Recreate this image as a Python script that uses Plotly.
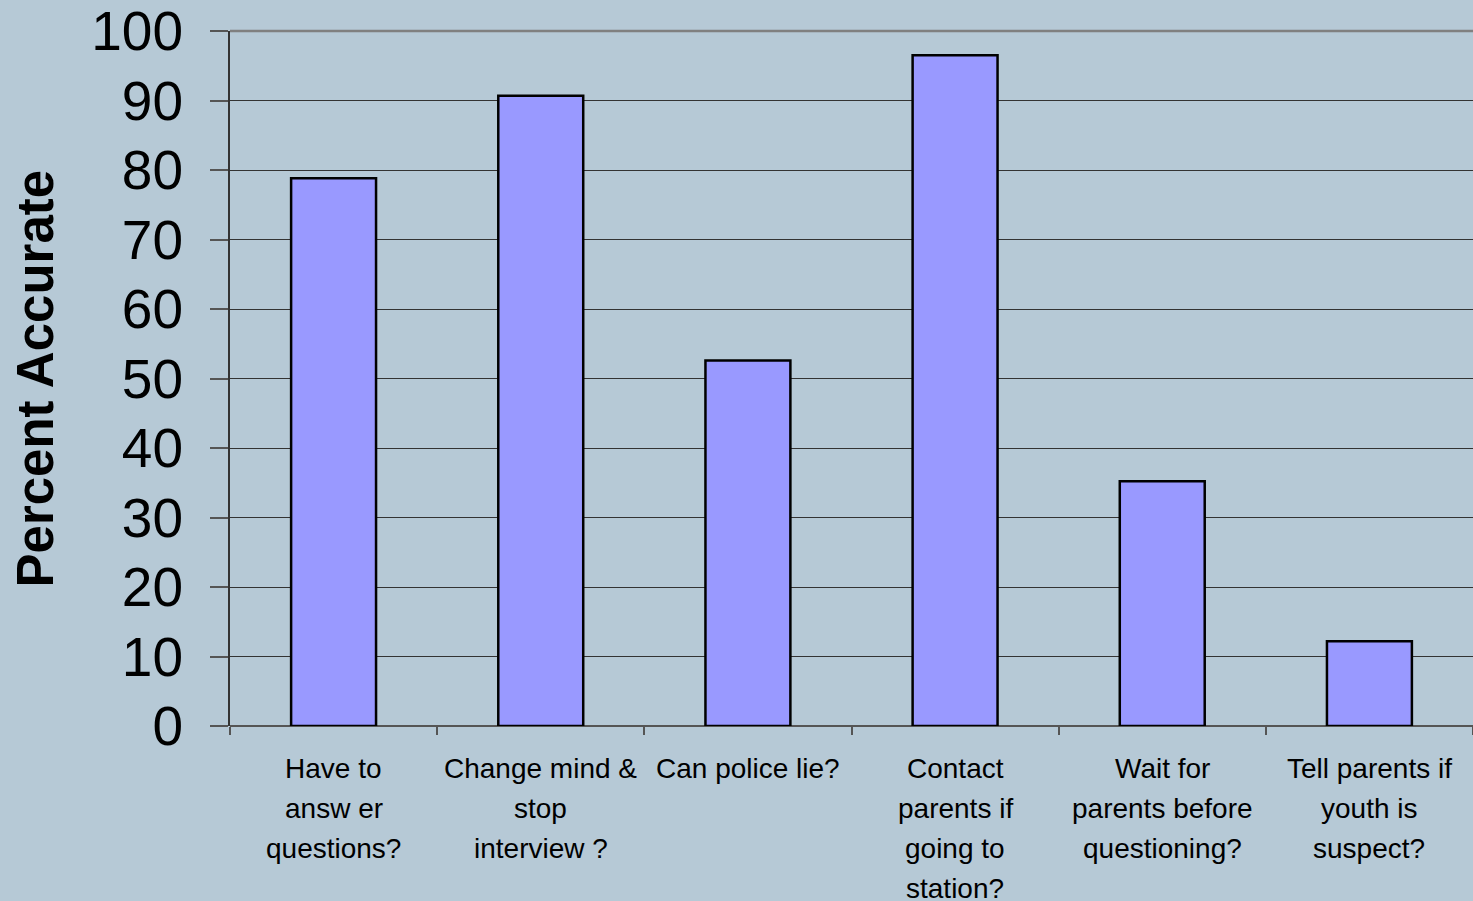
import plotly.graph_objects as go

categories = [
    "Have to answer questions?",
    "Change mind & stop interview?",
    "Can police lie?",
    "Contact parents if going to station?",
    "Wait for parents before questioning?",
    "Tell parents if youth is suspect?",
]
label_lines = [
    ["Have to", "answ er", "questions?"],
    ["Change mind &", "stop", "interview ?"],
    ["Can police lie?"],
    ["Contact", "parents if", "going to", "station?"],
    ["Wait for", "parents before", "questioning?"],
    ["Tell parents if", "youth is", "suspect?"],
]
values = [78.8, 90.7, 52.6, 96.5, 35.2, 12.2]
y_ticks = [0, 10, 20, 30, 40, 50, 60, 70, 80, 90, 100]
y_title = "Percent Accurate"

BG = "#B6C9D6"
FONT = "Liberation Sans, Arial, sans-serif"

fig = go.Figure(
    go.Bar(
        x=categories,
        y=values,
        width=0.41,
        marker=dict(color="#9999FF", line=dict(color="#000000", width=2.5)),
        hoverinfo="skip",
    )
)

fig.update_layout(
    width=1473,
    height=901,
    paper_bgcolor=BG,
    plot_bgcolor=BG,
    margin=dict(l=230, r=0, t=31, b=175),
    showlegend=False,
    font=dict(family=FONT, color="#000000"),
)

fig.update_xaxes(
    type="category",
    categoryorder="array",
    categoryarray=categories,
    tickson="boundaries",
    ticks="outside",
    ticklen=8,
    tickcolor="#555555",
    tickwidth=1.5,
    showline=False,
    showgrid=False,
    showticklabels=False,
)

fig.update_yaxes(
    range=[0, 100],
    tickvals=y_ticks,
    ticks="outside",
    ticklen=18,
    tickcolor="#555555",
    tickwidth=1.5,
    showgrid=True,
    gridcolor="#333333",
    gridwidth=1.2,
    showline=True,
    linecolor="#333333",
    linewidth=2,
    zeroline=True,
    zerolinecolor="#555555",
    zerolinewidth=1.5,
    tickfont=dict(size=55, family=FONT, color="#000000"),
    ticklabelstandoff=16,
)

# y-axis title
fig.add_annotation(
    text="<b>%s</b>" % y_title,
    xref="paper", yref="paper", x=0, y=0.5,
    xanchor="center", yanchor="middle",
    xshift=-195, textangle=-90, showarrow=False,
    font=dict(size=51, family=FONT, color="#000000"),
)

# multi-line category labels (wider line spacing than plotly's default)
for cat, lines in zip(categories, label_lines):
    for i, line in enumerate(lines):
        fig.add_annotation(
            text=line, x=cat, xref="x", yref="paper", y=0,
            xanchor="center", yanchor="middle",
            yshift=-(42 + 40 * i), showarrow=False,
            font=dict(size=28, family=FONT, color="#000000"),
        )

fig.add_shape(
    type="line", xref="paper", yref="paper", x0=0, x1=1, y0=1, y1=1,
    line=dict(color="#808080", width=2.5), layer="above",
)

fig.write_html(
    "out.html",
    config={"displayModeBar": False},
    post_script="document.body.style.margin='0';",
)
